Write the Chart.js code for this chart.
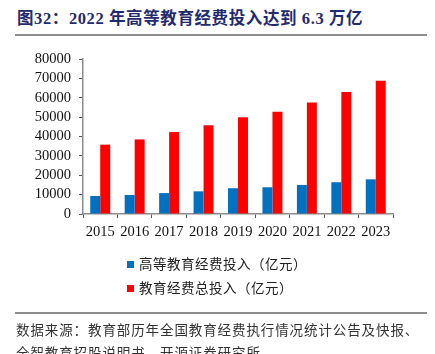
<!DOCTYPE html>
<html><head><meta charset="utf-8">
<script src="https://cdn.jsdelivr.net/npm/chart.js@4"></script>
<style>
body{margin:0;width:435px;height:354px;overflow:hidden;background:#fff;position:relative;font-family:"Liberation Serif","Noto Sans CJK SC",serif;}
#title{position:absolute;left:17px;top:5px;font-size:16.5px;font-weight:bold;color:#1f2b6e;white-space:nowrap;letter-spacing:0.6px;}
#line1{position:absolute;left:15px;top:34px;width:412px;height:2px;background:#8c8c8c;}
#line2{position:absolute;left:15px;top:312px;width:412px;height:2px;background:#8c8c8c;}
#wrap{position:absolute;left:0;top:0;width:435px;height:354px;}
.leg{position:absolute;left:127px;font-family:"Noto Sans CJK SC",sans-serif;font-size:13.5px;color:#222;white-space:nowrap;line-height:16px;letter-spacing:0.5px;}
.leg i{display:inline-block;width:7px;height:7px;margin-right:5px;vertical-align:1px;}
#src{position:absolute;left:16px;top:318px;font-family:"Noto Sans CJK SC",sans-serif;font-size:13.5px;color:#333;line-height:23px;letter-spacing:0.9px;white-space:nowrap;}
</style></head>
<body>
<div id="title">图32：2022 年高等教育经费投入达到 6.3 万亿</div>
<div id="line1"></div>
<div id="wrap"><canvas id="c" width="435" height="354"></canvas></div>
<div class="leg" style="top:255px"><i style="background:#0070c0"></i>高等教育经费投入（亿元）</div>
<div class="leg" style="top:279px"><i style="background:#ff0000"></i>教育经费总投入（亿元）</div>
<div id="line2"></div>
<div id="src">数据来源：教育部历年全国教育经费执行情况统计公告及快报、<br>全智教育招股说明书，开源证券研究所</div>
<script>
const categories = ["2015","2016","2017","2018","2019","2020","2021","2022","2023"];
const higherEdu = [9300, 9800, 10800, 11700, 13300, 13800, 15000, 16400, 17900];
const totalEdu = [35800, 38500, 42300, 45800, 49900, 52800, 57600, 63000, 68800];
const yTicks = [0,10000,20000,30000,40000,50000,60000,70000,80000];

new Chart(document.getElementById('c'), {
  type: 'bar',
  data: {
    labels: categories,
    datasets: [
      {label:'高等教育经费投入（亿元）', data: higherEdu, backgroundColor:'#0070c0', categoryPercentage:0.58, barPercentage:1.0},
      {label:'教育经费总投入（亿元）', data: totalEdu, backgroundColor:'#ff0000', categoryPercentage:0.58, barPercentage:1.0}
    ]
  },
  options: {
    responsive:false, animation:false,
    layout:{padding:{left:0, top:59, right:42, bottom:110}},
    plugins:{legend:{display:false}, tooltip:{enabled:false}},
    scales:{
      x:{
        grid:{display:true, drawOnChartArea:false, offset:true, tickLength:4, color:'#555'},
        border:{color:'#8c8c8c', width:1.5},
        ticks:{color:'#111', font:{family:'Liberation Serif', size:14.5}, padding:5, maxRotation:0, autoSkip:false},
        afterFit(s){ s.height = 30; }
      },
      y:{
        min:0, max:80000,
        afterBuildTicks(s){ s.ticks = yTicks.map(v=>({value:v})); },
        grid:{display:true, drawOnChartArea:false, tickLength:4, color:'#555'},
        border:{color:'#8c8c8c', width:1.5},
        ticks:{color:'#111', font:{family:'Liberation Serif', size:14.5}, padding:8, autoSkip:false, callback:(v)=>String(v)},
        afterFit(s){ s.width = 83; }
      }
    }
  }
});
</script>
</body></html>
